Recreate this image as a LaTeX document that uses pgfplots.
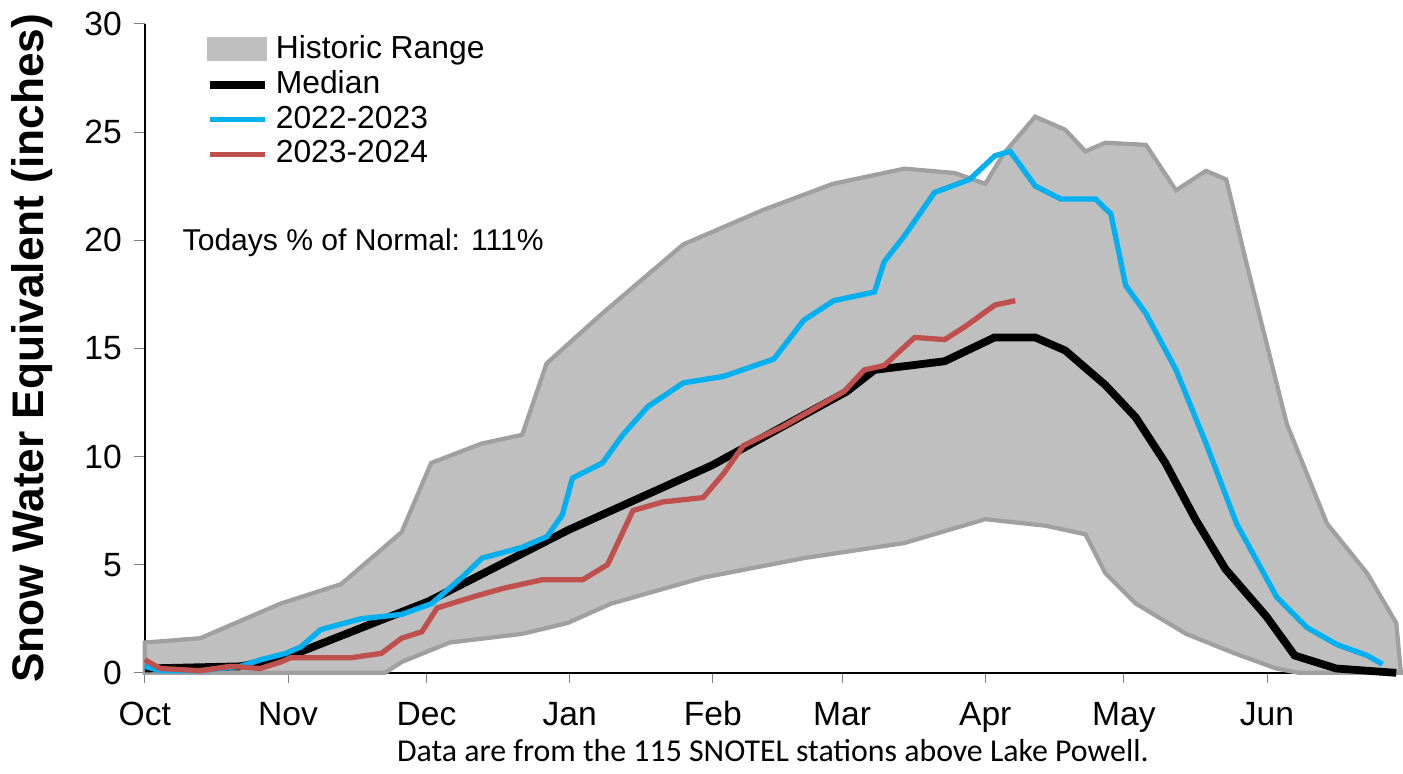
\documentclass[border=0pt]{standalone}
\usepackage{pgfplots}
\pgfplotsset{compat=1.18}
\usepackage{fontspec}
\setmainfont{Liberation Sans}
\newfontfamily\calfont{Carlito}
\definecolor{hist}{HTML}{BFBFBF}
\definecolor{histedge}{HTML}{A0A0A0}
\definecolor{blu}{HTML}{00B0F0}
\definecolor{red2}{HTML}{C0504D}
\begin{document}
\begin{tikzpicture}
\begin{axis}[
 scale only axis, width=12.48cm, height=6.45cm,
 xmin=0, xmax=272, ymin=0, ymax=30,
 axis x line*=bottom, axis y line*=left,
 xtick={0,31,61,92,123,151,182,212,243},
 xticklabels={Oct,Nov,Dec,Jan,Feb,Mar,Apr,May,Jun},
 ytick={0,5,...,30},
 tick align=outside, major tick length=3pt,
 /pgf/number format/assume math mode=true,
 ticklabel style={font=\fontsize{9.5}{11}\selectfont},
 xticklabel style={text height=1.6ex, text depth=0.2ex},
 ylabel={\bfseries Snow Water Equivalent (inches)},
 ylabel style={font=\fontsize{12.5}{14}\selectfont, yshift=2pt},
 xlabel={\calfont Data are from the 115 SNOTEL stations above Lake Powell.},
 xlabel style={font=\fontsize{9}{10}\selectfont, yshift=4pt},
 legend style={at={(0.045,1.0)}, anchor=north west, draw=none, fill=none,
   font=\fontsize{9}{10.5}\selectfont, row sep=-2pt, inner sep=1pt},
 legend cell align=left,
 legend image code/.code={\draw[#1] (0cm,0cm) -- (0.55cm,0cm);},
 clip=false,
]
\addplot[fill=hist, draw=histedge, line width=1.2pt, area legend,
 legend image code/.code={\fill[hist] (0cm,-0.1cm) rectangle (0.55cm,0.1cm);}] coordinates {
(0,1.4)(12,1.6)(29.4,3.2)(42.5,4.1)(55.6,6.5)(62,9.7)(73,10.6)(81.7,11)(87,14.3)(99,16.6)
(116.6,19.8)(134,21.4)(149,22.6)(164.5,23.3)(175.4,23.1)(182,22.6)(186,24)(192.8,25.7)
(199.3,25.1)(203.7,24.1)(208,24.5)(216.8,24.4)(223.3,22.3)(229.8,23.2)(234.2,22.8)
(238.6,18.9)(247.3,11.5)(256,6.9)(264.7,4.6)(271,2.3)
(272,0)(250,0)(245,0.2)(236,0.9)(225.5,1.8)(214.6,3.2)(208,4.6)(203.7,6.4)(195,6.8)
(182,7.1)(164.5,6)(142.7,5.3)(120.9,4.4)(101,3.2)(91.5,2.3)(81.7,1.8)(66,1.4)(55.6,0.5)
(52,0)(0,0)} -- cycle;
\addlegendentry{Historic Range}
\addplot[black, line width=2.2pt] coordinates {
(0,0.2)(20.7,0.3)(30.5,0.7)(61.4,3.3)(91.7,6.6)(122.9,9.6)(152,13)(158,14)(173.2,14.4)
(184,15.5)(192.8,15.5)(199.3,14.9)(208,13.3)(214.6,11.8)(221,9.7)(227.5,7.1)(234,4.8)
(242.9,2.6)(249,0.8)(258,0.2)(271,0)};
\addlegendentry{Median}
\addplot[blu, line width=1.5pt] coordinates {
(0,0.3)(3.3,0.1)(12,0.1)(20.7,0.3)(25,0.6)(30.5,0.9)(33.8,1.2)(38.1,2)(46.8,2.5)(55.6,2.7)
(62.1,3.2)(68.6,4.4)(73,5.3)(81.7,5.8)(87.1,6.3)(90.4,7.3)(92.6,9)(99.1,9.7)(103.5,11)
(108.9,12.3)(116.6,13.4)(125.3,13.7)(136.2,14.5)(142.7,16.3)(149.2,17.2)(158,17.6)
(160.1,19)(164.5,20.2)(171,22.2)(178.6,22.8)(184.1,23.9)(187.4,24.1)(192.8,22.5)
(198.3,21.9)(205.9,21.9)(209.2,21.2)(212.4,17.9)(216.8,16.6)(223.3,14)(229.8,10.6)
(236.4,6.9)(245.1,3.5)(251.6,2.1)(258.2,1.3)(264.7,0.8)(268,0.4)};
\addlegendentry{2022-2023}
\addplot[red2, line width=1.5pt] coordinates {
(0,0.6)(3.3,0.2)(12,0.1)(18.5,0.3)(25,0.2)(29.4,0.5)(31.6,0.7)(44.7,0.7)(51.2,0.9)
(55.6,1.6)(60,1.9)(63.3,3)(70.9,3.5)(77.5,3.9)(86,4.3)(94.8,4.3)(100.2,5)(105.7,7.5)
(112.2,7.9)(120.9,8.1)(125.3,9.2)(129.6,10.5)(138.3,11.4)(151.4,13)(155.8,14)(160.1,14.2)
(166.7,15.5)(173.2,15.4)(177.6,16)(184.1,17)(188.5,17.2)};
\addlegendentry{2023-2024}
\node[anchor=west, font=\fontsize{8.5}{10}\selectfont] at (axis cs:5.5,19.9) {Todays \% of Normal: 111\%};
\end{axis}
\end{tikzpicture}
\end{document}
